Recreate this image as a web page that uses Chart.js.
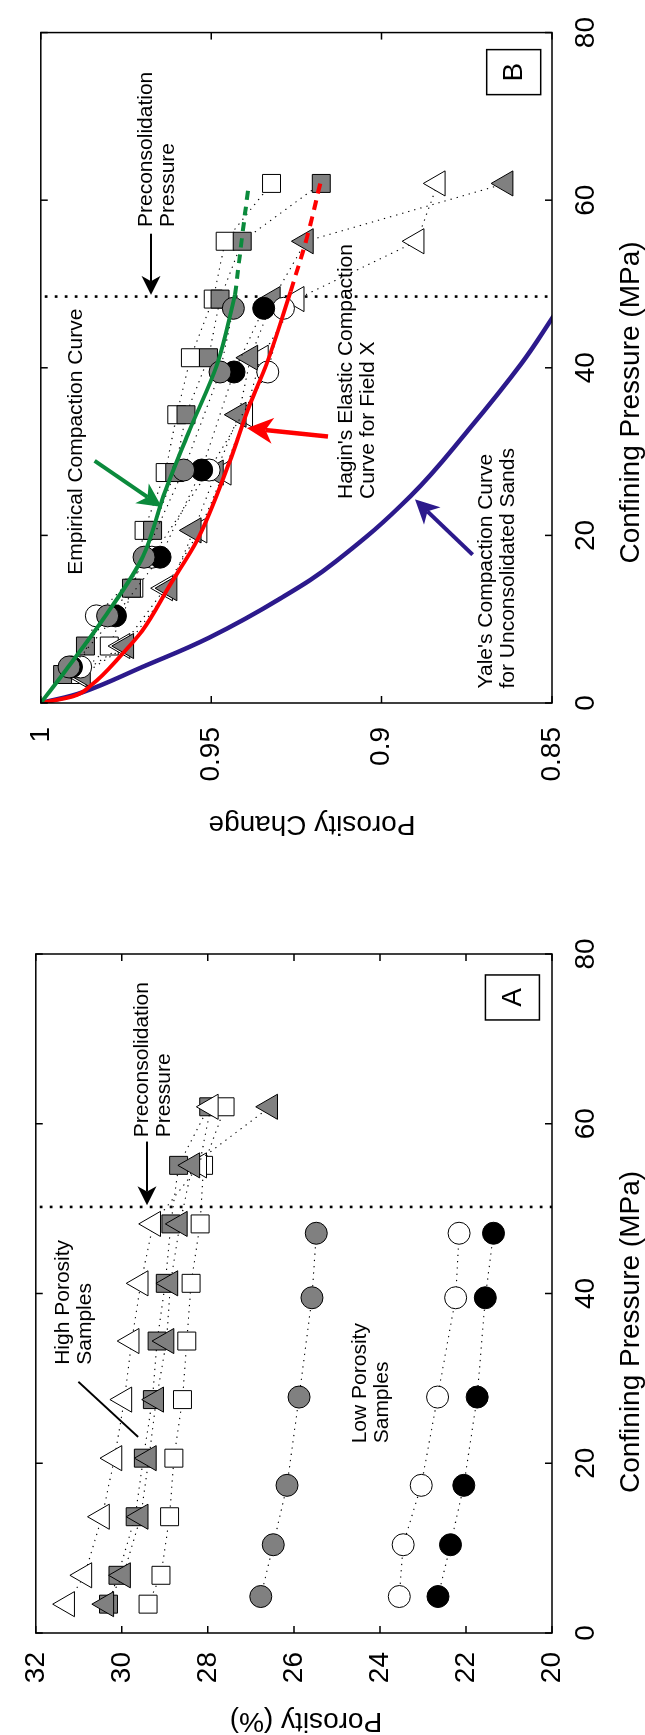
<!DOCTYPE html>
<html><head><meta charset="utf-8">
<script src="https://cdn.jsdelivr.net/npm/chart.js@4.4.1/dist/chart.umd.min.js"></script>
<style>
html,body{margin:0;padding:0;background:#fff;overflow:hidden;width:645px;height:1735px;}
#fig{position:absolute;left:0;top:0;width:1735px;height:645px;transform-origin:0 0;transform:translate(0px,1735px) rotate(-90deg);background:#fff;}
#ca{position:absolute;left:0;top:0;width:870px;height:645px;}
#cb{position:absolute;left:870px;top:0;width:865px;height:645px;}
</style></head><body>
<div id="fig"><canvas id="ca" width="870" height="645"></canvas><canvas id="cb" width="865" height="645"></canvas></div>
<script>
// ---------- tick values ----------
const xTicks = [0, 20, 40, 60, 80];
const yTicksA = [20, 22, 24, 26, 28, 30, 32];
const yTicksB = [0.85, 0.9, 0.95, 1];
const yTickLabelsB = ['0.85', '0.9', '0.95', '1'];

// ---------- confining pressure (MPa) ----------
const pressureHigh = [3.4, 6.8, 13.7, 20.6, 27.5, 34.4, 41.2, 48.2, 55.1, 62.0];
const pressureLow = [4.3, 10.4, 17.4, 27.8, 39.5, 47.1];

// ---------- panel A : porosity (%) ----------
const porosityOpenTri = [31.27, 30.87, 30.46, 30.17, 29.94, 29.77, 29.56, 29.27, 28.20, 27.93];
const porosityGraySq = [30.31, 30.09, 29.69, 29.50, 29.29, 29.18, 28.99, 28.86, 28.68, 27.98];
const porosityGrayTri = [30.36, 29.97, 29.56, 29.37, 29.20, 28.96, 28.87, 28.65, 28.36, 26.55];
const porosityOpenSq = [29.39, 29.09, 28.89, 28.79, 28.59, 28.49, 28.39, 28.18, 28.10, 27.60];
const porosityGrayCirc = [26.77, 26.48, 26.16, 25.88, 25.58, 25.48];
const porosityOpenCirc = [23.55, 23.46, 23.04, 22.66, 22.24, 22.16];
const porosityBlackCirc = [22.65, 22.36, 22.05, 21.74, 21.55, 21.36];

// ---------- panel B : porosity change ----------
const changeOpenTri = [0.9888, 0.9760, 0.9635, 0.9534, 0.9463, 0.9400, 0.9354, 0.9249, 0.8897, 0.8835];
const changeGraySq = [0.9936, 0.9869, 0.9734, 0.9672, 0.9607, 0.9574, 0.9508, 0.9474, 0.9409, 0.9177];
const changeGrayTri = [0.9876, 0.9749, 0.9622, 0.9551, 0.9486, 0.9419, 0.9385, 0.9319, 0.9222, 0.8636];
const changeOpenSq = [0.9886, 0.9799, 0.9727, 0.9697, 0.9635, 0.9601, 0.9561, 0.9494, 0.9459, 0.9323];
const changeGrayCirc = [0.9917, 0.9804, 0.9697, 0.9581, 0.9474, 0.9435];
const changeOpenCirc = [0.9883, 0.9837, 0.9674, 0.9506, 0.9334, 0.9288];
const changeBlackCirc = [0.9910, 0.9781, 0.9650, 0.9528, 0.9433, 0.9346];

// ---------- panel B curves ----------
const empiricalP = [0, 4.0, 10.3, 17.5, 24.7, 32.6, 40.5, 48.7];
const empiricalV = [1, 0.9925, 0.9812, 0.9700, 0.9640, 0.9563, 0.9482, 0.9430];
const empiricalExtP = [48.7, 55.4, 61.5];
const empiricalExtV = [0.9430, 0.9410, 0.9391];
const haginP = [0, 0.8, 2.1, 5.9, 8.6, 14.1, 19.5, 28.7, 35.4, 40.5, 49.1];
const haginV = [1, 0.9905, 0.9853, 0.9760, 0.9703, 0.9621, 0.9540, 0.9447, 0.9389, 0.9337, 0.9267];
const haginExtP = [49.1, 55.4, 62.0];
const haginExtV = [0.9267, 0.9220, 0.9180];
const yaleP = [0, 1.3, 4.3, 7.8, 12.5, 16.9, 24.7, 32.6, 40.5, 46.5];
const yaleV = [1, 0.9876, 0.9702, 0.9506, 0.9296, 0.9134, 0.8915, 0.8745, 0.8590, 0.8490];

// ---------- preconsolidation pressure ----------
const preconPressureA = 50.2;
const preconPressureB = 48.5;

const FONT = '"Liberation Sans", Arial, Helvetica, sans-serif';
const GREEN = '#0b8a3c', RED = '#ff0000', BLUE = '#2c1a8c', GRAY = '#808080';
Chart.defaults.font.family = FONT;
Chart.defaults.color = '#000';

function pts(xs, ys) { return xs.map((x, i) => ({ x: x, y: ys[i] })); }
function markerSeries(label, xs, ys, style, fill, radius, order) {
  return { label, data: pts(xs, ys), showLine: true, borderColor: '#000', borderWidth: 1.1,
    borderDash: [1.3, 5], pointStyle: style, pointRadius: radius, pointHoverRadius: radius,
    pointBackgroundColor: fill, pointBorderColor: '#000', pointBorderWidth: 1, order, tension: 0 };
}
function curveSeries(label, xs, ys, color, width, dash, order, tension) {
  return { label, data: pts(xs, ys), showLine: true, borderColor: color, borderWidth: width,
    borderDash: dash, pointRadius: 0, pointHoverRadius: 0,
    cubicInterpolationMode: tension ? 'default' : 'monotone', tension: tension || 0,
    fill: false, order, borderCapStyle: 'butt' };
}
function scalesFor(yMin, yMax, yTicks, yLabelFn, yWidth, yPad) {
  return {
    x: { type: 'linear', min: 0, max: 80,
      afterBuildTicks: s => { s.ticks = xTicks.map(v => ({ value: v })); },
      afterFit: s => { s.height = 93; },
      grid: { display: false, drawTicks: false }, border: { display: false },
      ticks: { font: { size: 28 }, padding: 17, maxRotation: 0, autoSkip: false, callback: v => String(v) } },
    y: { type: 'linear', min: yMin, max: yMax,
      afterBuildTicks: s => { s.ticks = yTicks.map(v => ({ value: v })); },
      afterFit: s => { s.width = yWidth; },
      grid: { display: false, drawTicks: false }, border: { display: false },
      ticks: { font: { size: 28 }, padding: yPad, autoSkip: false, callback: yLabelFn } }
  };
}

function drawArrow(ctx, x1, y1, x2, y2, color, width, headLen, headHalf) {
  const a = Math.atan2(y2 - y1, x2 - x1), c = Math.cos(a), s = Math.sin(a);
  const bx = x2 - headLen * c, by = y2 - headLen * s;
  const nx = x2 - headLen * 0.72 * c, ny = y2 - headLen * 0.72 * s;
  ctx.save();
  ctx.strokeStyle = color; ctx.fillStyle = color; ctx.lineWidth = width; ctx.setLineDash([]);
  ctx.beginPath(); ctx.moveTo(x1, y1); ctx.lineTo(nx, ny); ctx.stroke();
  ctx.beginPath(); ctx.moveTo(x2, y2);
  ctx.lineTo(bx - headHalf * s, by + headHalf * c);
  ctx.lineTo(nx, ny);
  ctx.lineTo(bx + headHalf * s, by - headHalf * c);
  ctx.closePath(); ctx.fill();
  ctx.restore();
}

const framePlugin = {
  id: 'frame',
  beforeDatasetsDraw(chart, args, o) {
    const { ctx, chartArea: a, scales: { x } } = chart;
    const p = x.getPixelForValue(o.precon);
    ctx.save(); ctx.strokeStyle = '#000'; ctx.lineWidth = 2.6; ctx.setLineDash([2.6, 7.4]);
    ctx.beginPath(); ctx.moveTo(p, a.top + 4); ctx.lineTo(p, a.bottom); ctx.stroke(); ctx.restore();
  },
  afterDraw(chart, args, o) {
    const { ctx, chartArea: a, scales: { x, y } } = chart;
    ctx.save(); ctx.strokeStyle = '#000'; ctx.lineWidth = 1.5; ctx.setLineDash([]);
    ctx.strokeRect(a.left, a.top, a.right - a.left, a.bottom - a.top);
    const tl = 7;
    ctx.beginPath();
    x.ticks.forEach(t => { const p = x.getPixelForValue(t.value);
      ctx.moveTo(p, a.bottom); ctx.lineTo(p, a.bottom - tl); ctx.moveTo(p, a.top); ctx.lineTo(p, a.top + tl); });
    y.ticks.forEach(t => { const p = y.getPixelForValue(t.value);
      ctx.moveTo(a.left, p); ctx.lineTo(a.left + tl, p); ctx.moveTo(a.right, p); ctx.lineTo(a.right - tl, p); });
    ctx.stroke(); ctx.restore();
  }
};

const annotPlugin = {
  id: 'annot',
  afterDatasetsDraw(chart, args, o) {
    const { ctx, chartArea: a, scales: { x, y } } = chart;
    const P = (p, v) => [x.getPixelForValue(p), y.getPixelForValue(v)];
    (o.lines || []).forEach(l => {
      const [x1, y1] = P(l.from[0], l.from[1]), [x2, y2] = P(l.to[0], l.to[1]);
      ctx.save(); ctx.strokeStyle = l.color; ctx.lineWidth = l.width; ctx.setLineDash([]);
      ctx.beginPath(); ctx.moveTo(x1, y1); ctx.lineTo(x2, y2); ctx.stroke(); ctx.restore();
    });
    (o.arrows || []).forEach(r => {
      const [x1, y1] = P(r.from[0], r.from[1]), [x2, y2] = P(r.to[0], r.to[1]);
      drawArrow(ctx, x1, y1, x2, y2, r.color, r.width, r.head, r.half);
    });
    (o.texts || []).forEach(t => {
      const [tx, ty] = P(t.at[0], t.at[1]);
      ctx.save(); ctx.fillStyle = '#000'; ctx.font = '21px ' + FONT;
      ctx.textAlign = 'left'; ctx.textBaseline = 'alphabetic';
      t.lines.forEach((s, i) => ctx.fillText(s, tx, ty + i * 22));
      ctx.restore();
    });
    if (o.tag) {
      const [cx, cy] = P(o.tag.at[0], o.tag.at[1]);
      ctx.save(); ctx.strokeStyle = '#000'; ctx.lineWidth = 1.5; ctx.setLineDash([]);
      ctx.fillStyle = '#fff'; ctx.fillRect(cx - 22.5, cy - 27, 45, 54);
      ctx.strokeRect(cx - 22.5, cy - 27, 45, 54);
      ctx.fillStyle = '#000'; ctx.font = '28px ' + FONT; ctx.textAlign = 'center'; ctx.textBaseline = 'middle';
      ctx.fillText(o.tag.text, cx, cy + 1); ctx.restore();
    }
  },
  afterDraw(chart, args, o) {
    const { ctx } = chart;
    ctx.save(); ctx.fillStyle = '#000'; ctx.font = '28px ' + FONT; ctx.textBaseline = 'alphabetic'; ctx.textAlign = 'center';
    ctx.fillText(o.xTitle.text, o.xTitle.cx, o.xTitle.base);
    ctx.translate(o.yTitle.base, o.yTitle.cy); ctx.rotate(-Math.PI / 2);
    ctx.fillText(o.yTitle.text, 0, 0);
    ctx.restore();
  }
};

// ---------------- Panel A ----------------
new Chart(document.getElementById('ca'), {
  type: 'scatter',
  data: { datasets: [
    markerSeries('Gray triangles', pressureHigh, porosityGrayTri, 'triangle', GRAY, 14.5, 1),
    markerSeries('Open triangles', pressureHigh, porosityOpenTri, 'triangle', '#fff', 14.5, 2),
    markerSeries('Open squares', pressureHigh, porosityOpenSq, 'rect', '#fff', 12.7, 3),
    markerSeries('Gray squares', pressureHigh, porosityGraySq, 'rect', GRAY, 12.7, 4),
    markerSeries('Gray circles', pressureLow, porosityGrayCirc, 'circle', GRAY, 11, 5),
    markerSeries('Black circles', pressureLow, porosityBlackCirc, 'circle', '#000', 11, 6),
    markerSeries('Open circles', pressureLow, porosityOpenCirc, 'circle', '#fff', 11, 7)
  ] },
  options: {
    responsive: false, animation: false, devicePixelRatio: 1, events: [],
    layout: { padding: { left: 0, right: 89, top: 18, bottom: 0 } },
    scales: scalesFor(20, 32, yTicksA, v => String(v), 102, 19),
    plugins: {
      legend: { display: false }, tooltip: { enabled: false },
      frame: { precon: preconPressureA },
      annot: {
        lines: [{ from: [29.6, 31.01], to: [23.1, 29.62], color: '#000', width: 2 }],
        arrows: [{ from: [57.9, 29.416], to: [50.4, 29.416], color: '#000', width: 2, head: 19, half: 9.5 }],
        texts: [
          { lines: ['Preconsolidation', 'Pressure'], at: [58.4, 29.386] },
          { lines: ['High Porosity', 'Samples'], at: [31.6, 31.236] },
          { lines: ['Low Porosity', 'Samples'], at: [22.35, 24.324] }
        ],
        tag: { text: 'A', at: [74.88, 20.92] },
        xTitle: { text: 'Confining Pressure (MPa)', cx: 403, base: 639 },
        yTitle: { text: 'Porosity (%)', cy: 306, base: 22 }
      }
    }
  },
  plugins: [framePlugin, annotPlugin]
});

// ---------------- Panel B ----------------
new Chart(document.getElementById('cb'), {
  type: 'scatter',
  data: { datasets: [
    curveSeries("Empirical Compaction Curve", empiricalP, empiricalV, GREEN, 4, [], 0, 0.35),
    curveSeries("Empirical extension", empiricalExtP, empiricalExtV, GREEN, 4, [9, 7], 0, 0.35),
    curveSeries("Hagin's Elastic Compaction Curve", haginP, haginV, RED, 4, [], 0, 0),
    curveSeries("Hagin extension", haginExtP, haginExtV, RED, 4, [10, 7], 0, 0.35),
    curveSeries("Yale's Compaction Curve", yaleP, yaleV, BLUE, 4.5, [], 0, 0.4),
    markerSeries('Gray circles', pressureLow, changeGrayCirc, 'circle', GRAY, 11, 1),
    markerSeries('Black circles', pressureLow, changeBlackCirc, 'circle', '#000', 11, 2),
    markerSeries('Open circles', pressureLow, changeOpenCirc, 'circle', '#fff', 11, 3),
    markerSeries('Gray triangles', pressureHigh, changeGrayTri, 'triangle', GRAY, 14.5, 4),
    markerSeries('Open triangles', pressureHigh, changeOpenTri, 'triangle', '#fff', 14.5, 5),
    markerSeries('Gray squares', pressureHigh, changeGraySq, 'rect', GRAY, 12.7, 6),
    markerSeries('Open squares', pressureHigh, changeOpenSq, 'rect', '#fff', 12.7, 7)
  ] },
  options: {
    responsive: false, animation: false, devicePixelRatio: 1, events: [],
    layout: { padding: { left: 0, right: 25, top: 18, bottom: 0 } },
    scales: scalesFor(0.85, 1, yTicksB, (v, i) => yTickLabelsB[i], 162, 24),
    plugins: {
      legend: { display: false }, tooltip: { enabled: false },
      frame: { precon: preconPressureB },
      annot: {
        arrows: [
          { from: [56.0, 0.9677], to: [48.7, 0.9677], color: '#000', width: 2, head: 19, half: 9.5 },
          { from: [28.9, 0.9842], to: [23.4, 0.9645], color: GREEN, width: 4, head: 24, half: 12 },
          { from: [31.8, 0.9157], to: [32.8, 0.9395], color: RED, width: 4.5, head: 26, half: 13 },
          { from: [17.7, 0.8733], to: [24.3, 0.8902], color: BLUE, width: 4, head: 24, half: 12 }
        ],
        texts: [
          { lines: ['Preconsolidation', 'Pressure'], at: [56.8, 0.96742] },
          { lines: ['Empirical Compaction Curve'], at: [15.3, 0.98778] },
          { lines: ["Hagin's Elastic Compaction", 'Curve for Field X'], at: [24.34, 0.90882] },
          { lines: ["Yale's Compaction Curve", 'for Unconsolidated Sands'], at: [1.73, 0.86756] }
        ],
        tag: { text: 'B', at: [75.28, 0.86124] },
        xTitle: { text: 'Confining Pressure (MPa)', cx: 462.5, base: 639 },
        yTitle: { text: 'Porosity Change', cy: 312, base: 49 }
      }
    }
  },
  plugins: [framePlugin, annotPlugin]
});
</script>
</body></html>
